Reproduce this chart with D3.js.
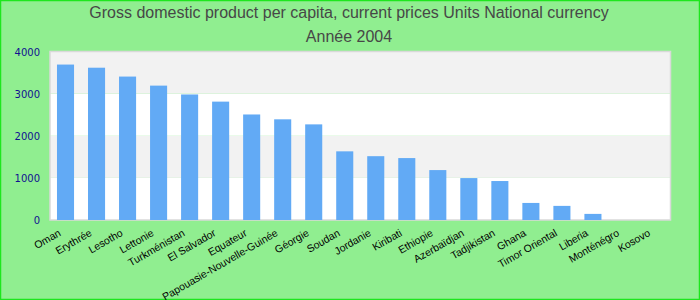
<!DOCTYPE html>
<html>
<head>
<meta charset="utf-8">
<script src="https://cdn.jsdelivr.net/npm/d3@7"></script>
<style>
  html, body { margin: 0; padding: 0; }
  body { width: 700px; height: 300px; overflow: hidden; }
  .title { font-family: "Liberation Sans", Arial, sans-serif; font-size: 16px; fill: #474747; text-anchor: middle; }
  .ytick { font-family: "DejaVu Sans", sans-serif; font-size: 10px; fill: #101090; text-anchor: end; }
  .xlabel { font-family: "Liberation Sans", Arial, sans-serif; font-size: 10.5px; fill: #000; text-anchor: end; }
</style>
</head>
<body>
<div id="chart"></div>
<script>
// ===== data =====
const countries = ['Oman', 'Erythrée', 'Lesotho', 'Lettonie', 'Turkménistan', 'El Salvador',
  'Equateur', 'Papouasie-Nouvelle-Guinée', 'Géorgie', 'Soudan', 'Jordanie', 'Kiribati',
  'Ethiopie', 'Azerbaïdjan', 'Tadjikistan', 'Ghana', 'Timor Oriental', 'Liberia',
  'Monténégro', 'Kosovo'];
const gdpValues = [3690, 3615, 3405, 3190, 2980, 2810,
  2505, 2390, 2270, 1630, 1515, 1470,
  1185, 995, 925, 405, 335, 145,
  0, 0];
const yTicks = [0, 1000, 2000, 3000, 4000];
const titleLines = ['Gross domestic product per capita, current prices Units National currency', 'Année 2004'];

const W = 700, H = 300;
const plot = { left: 50, right: 670.5, top: 51.5, bottom: 220 };

const svg = d3.select('#chart').append('svg')
  .attr('width', W).attr('height', H);

// background + frame
svg.append('rect')
  .attr('x', 0.5).attr('y', 0.5)
  .attr('width', W - 1).attr('height', H - 1)
  .attr('fill', '#90ee90')
  .attr('stroke', '#1ee61e').attr('stroke-width', 1.5);

// title
titleLines.forEach((t, i) => {
  svg.append('text')
    .attr('class', 'title')
    .attr('x', 349).attr('y', 18 + i * 24)
    .text(t);
});

const x = d3.scaleBand()
  .domain(countries)
  .range([plot.left, plot.right])
  .paddingInner(0.45)
  .paddingOuter(0.225);

const y = d3.scaleLinear()
  .domain([0, 4000])
  .range([plot.bottom, plot.top]);

// alternating bands
const bands = d3.pairs(yTicks);
svg.append('g').selectAll('rect')
  .data(bands)
  .enter()
  .append('rect')
  .attr('x', plot.left)
  .attr('width', plot.right - plot.left)
  .attr('y', d => y(d[1]))
  .attr('height', d => y(d[0]) - y(d[1]))
  .attr('fill', (d, i) => i % 2 ? '#f2f2f2' : '#ffffff');

// plot frame
svg.append('rect')
  .attr('x', plot.left).attr('y', plot.top)
  .attr('width', plot.right - plot.left)
  .attr('height', plot.bottom - plot.top)
  .attr('fill', 'none')
  .attr('stroke', '#d9d9d9').attr('stroke-width', 1.5);

// bars
svg.append('g').selectAll('rect')
  .data(countries)
  .enter()
  .append('rect')
  .attr('x', d => x(d))
  .attr('width', x.bandwidth())
  .attr('y', (d, i) => y(gdpValues[i]))
  .attr('height', (d, i) => y(0) - y(gdpValues[i]))
  .attr('fill', '#62aaf5');

// y axis labels
const yAxis = d3.axisLeft(y).tickValues(yTicks).tickSize(0).tickPadding(0).tickFormat(d3.format('d'));
const yG = svg.append('g')
  .attr('transform', `translate(${plot.left - 10},0)`)
  .call(yAxis);
yG.select('.domain').remove();
yG.selectAll('text')
  .attr('class', 'ytick')
  .attr('fill', null)
  .attr('dy', '0.35em');
yG.attr('font-family', null).attr('font-size', null);

// x axis labels (rotated)
const xAxis = d3.axisBottom(x).tickSize(0).tickPadding(0);
const xG = svg.append('g')
  .attr('transform', `translate(0,${plot.bottom})`)
  .call(xAxis);
xG.select('.domain').remove();
xG.attr('font-family', null).attr('font-size', null);
xG.selectAll('text')
  .attr('class', 'xlabel')
  .attr('fill', null)
  .attr('y', 0).attr('dy', 0)
  .attr('transform', 'translate(-4,15) rotate(-30)');
</script>
</body>
</html>
